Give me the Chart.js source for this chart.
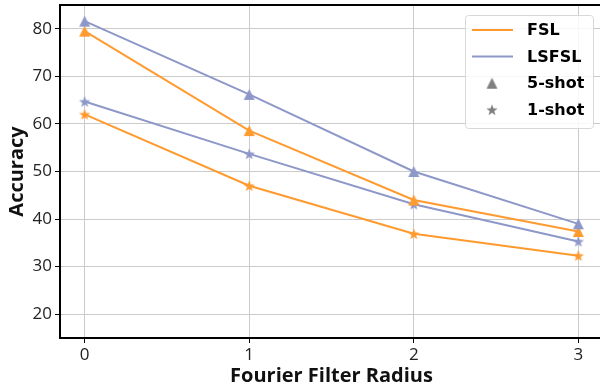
<!DOCTYPE html>
<html>
<head>
<meta charset="utf-8">
<script src="https://cdn.jsdelivr.net/npm/chart.js@4/dist/chart.umd.min.js"></script>
<style>
  html, body { margin: 0; padding: 0; background: #fff; overflow: hidden; }
  #wrap { width: 600px; height: 388px; overflow: hidden; }
</style>
</head>
<body>
<div id="wrap"><canvas id="chart" width="603" height="388"></canvas></div>
<script>
// data
const radius = [0, 1, 2, 3];
const fsl5 = [79.5, 58.6, 44.0, 37.4];
const lsfsl5 = [81.6, 66.2, 50.0, 39.0];
const fsl1 = [62.0, 47.0, 36.9, 32.3];
const lsfsl1 = [64.7, 53.7, 43.1, 35.3];
const yTicks = [20, 30, 40, 50, 60, 70, 80];

const orange = '#ff9a2f';
const blue = '#8d98c9';
const grey = '#808080';

// matplotlib-like filled markers as little canvases
function triangleMarker(color, size) {
    const c = document.createElement('canvas');
    c.width = size + 2; c.height = size + 2;
    const g = c.getContext('2d');
    const m = 1;
    g.fillStyle = color;
    g.beginPath();
    g.moveTo(m + size / 2, m);
    g.lineTo(m + size, m + size);
    g.lineTo(m, m + size);
    g.closePath();
    g.fill();
    return c;
}

function starMarker(color, size) {
    const c = document.createElement('canvas');
    c.width = size + 2; c.height = size + 2;
    const g = c.getContext('2d');
    const cx = c.width / 2, cy = c.height / 2 + 0.5;
    const ro = size / 2, ri = ro * 0.4;
    g.fillStyle = color;
    g.beginPath();
    for (let i = 0; i < 10; i++) {
        const r = i % 2 ? ri : ro;
        const a = -Math.PI / 2 + i * Math.PI / 5;
        const px = cx + r * Math.cos(a), py = cy + r * Math.sin(a);
        if (i === 0) g.moveTo(px, py); else g.lineTo(px, py);
    }
    g.closePath();
    g.fill();
    return c;
}

function pts(values) {
    return radius.map((x, i) => ({ x: x, y: values[i] }));
}

function series(values, color, marker) {
    return {
        data: pts(values),
        borderColor: color,
        backgroundColor: color,
        borderWidth: 2,
        pointStyle: marker,
        pointRadius: 6,
        pointHoverRadius: 6,
        tension: 0
    };
}

const legendItems = [
    { text: 'FSL', kind: 'line', color: orange },
    { text: 'LSFSL', kind: 'line', color: blue },
    { text: '5-shot', kind: 'img', img: triangleMarker(grey, 11) },
    { text: '1-shot', kind: 'img', img: starMarker(grey, 12) }
];

// legend box inside the axes, upper right
const insideLegend = {
    id: 'insideLegend',
    afterDraw(chart) {
        const ctx = chart.ctx;
        const x0 = 465, y0 = 15, w = 128, h = 113;
        ctx.save();
        ctx.beginPath();
        ctx.roundRect(x0 + 0.5, y0 + 0.5, w, h, 3);
        ctx.fillStyle = 'rgba(255,255,255,0.85)';
        ctx.fill();
        ctx.strokeStyle = '#d8d8d8';
        ctx.lineWidth = 1;
        ctx.stroke();
        ctx.font = 'bold 16px "DejaVu Sans"';
        ctx.textBaseline = 'middle';
        ctx.textAlign = 'left';
        legendItems.forEach((it, i) => {
            const cy = y0 + 15 + i * 26.6;
            if (it.kind === 'line') {
                ctx.strokeStyle = it.color;
                ctx.lineWidth = 2;
                ctx.beginPath();
                ctx.moveTo(472, cy);
                ctx.lineTo(513, cy);
                ctx.stroke();
            } else {
                ctx.drawImage(it.img, 492 - it.img.width / 2, cy - it.img.height / 2);
            }
            ctx.fillStyle = '#000';
            ctx.fillText(it.text, 527, cy + 1);
        });
        ctx.restore();
    }
};

// top spine
const topSpine = {
    id: 'topSpine',
    afterDraw(chart) {
        const a = chart.chartArea;
        const ctx = chart.ctx;
        ctx.save();
        ctx.strokeStyle = '#000';
        ctx.lineWidth = 2;
        ctx.beginPath();
        ctx.moveTo(a.left - 1, a.top);
        ctx.lineTo(a.right, a.top);
        ctx.stroke();
        ctx.restore();
    }
};

function noPad(s) {
    s.paddingLeft = 0; s.paddingRight = 0;
    s.paddingTop = 0; s.paddingBottom = 0;
}

new Chart(document.getElementById('chart'), {
    type: 'line',
    data: {
        datasets: [
            series(lsfsl5, blue, triangleMarker(blue, 11)),
            series(fsl5, orange, triangleMarker(orange, 11)),
            series(lsfsl1, blue, starMarker(blue, 12)),
            series(fsl1, orange, starMarker(orange, 12))
        ]
    },
    options: {
        responsive: false,
        animation: false,
        events: [],
        layout: { autoPadding: false, padding: { top: 5, right: 0, left: 0, bottom: 0 } },
        plugins: {
            legend: { display: false },
            tooltip: { enabled: false }
        },
        scales: {
            x: {
                type: 'linear',
                min: -0.15,
                max: 3.15,
                afterBuildTicks: (s) => { s.ticks = radius.map(v => ({ value: v })); },
                afterFit: (s) => { s.height = 50; noPad(s); },
                grid: { color: '#cbcbcb', lineWidth: 1, tickColor: '#000', tickLength: 5 },
                border: { color: '#000', width: 2 },
                ticks: { color: '#222', font: { family: '"Open Sans"', size: 17 }, padding: 2 },
                title: {
                    display: true,
                    text: 'Fourier Filter Radius',
                    color: '#111',
                    font: { family: '"Open Sans"', size: 20, weight: 'bold' },
                    padding: { top: 0, bottom: 0 }
                }
            },
            y: {
                min: 15,
                max: 85,
                afterBuildTicks: (s) => { s.ticks = yTicks.map(v => ({ value: v })); },
                afterFit: (s) => { s.width = 60; noPad(s); },
                grid: { color: '#cbcbcb', lineWidth: 1, tickColor: '#000', tickLength: 5 },
                border: { color: '#000', width: 2 },
                ticks: { color: '#222', font: { family: '"Open Sans"', size: 17 }, padding: 3 },
                title: {
                    display: true,
                    text: 'Accuracy',
                    color: '#111',
                    font: { family: '"Open Sans"', size: 20, weight: 'bold' },
                    padding: { top: 5, bottom: 0 }
                }
            }
        }
    },
    plugins: [topSpine, insideLegend]
});
</script>
</body>
</html>
